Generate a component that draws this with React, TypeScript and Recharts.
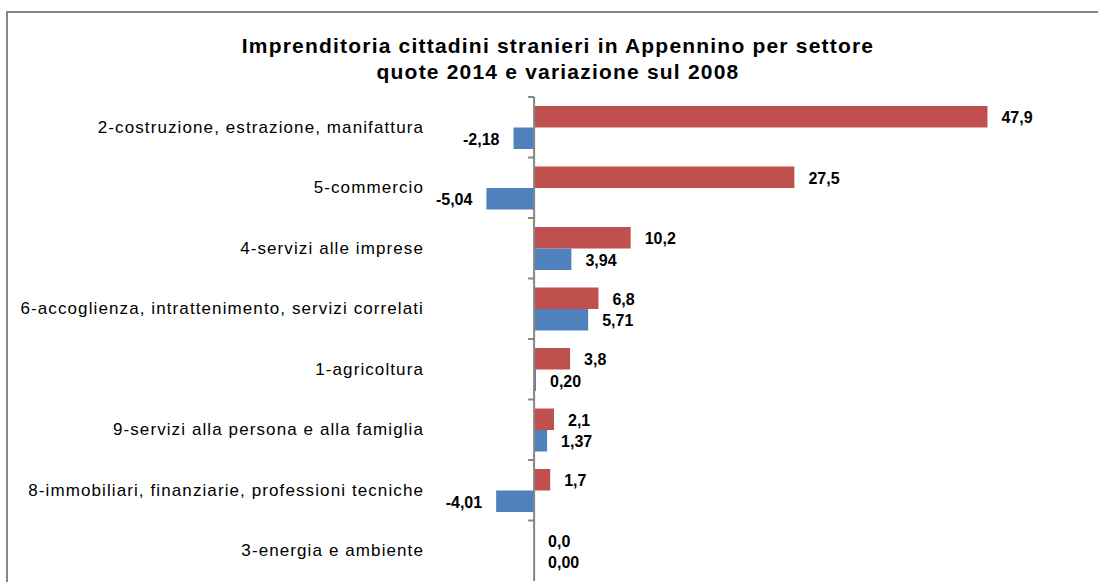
import React from 'react';
import { BarChart, Bar, XAxis, YAxis, ReferenceLine, LabelList } from 'recharts';

const categories = [
  '2-costruzione, estrazione, manifattura',
  '5-commercio',
  '4-servizi alle imprese',
  '6-accoglienza, intrattenimento, servizi correlati',
  '1-agricoltura',
  '9-servizi alla persona e alla famiglia',
  '8-immobiliari, finanziarie, professioni tecniche',
  '3-energia e ambiente',
];
const quote2014 = [47.9, 27.5, 10.2, 6.8, 3.8, 2.1, 1.7, 0.0];
const variazione2008 = [-2.18, -5.04, 3.94, 5.71, 0.2, 1.37, -4.01, 0.0];
const titleLines = [
  'Imprenditoria cittadini stranieri in Appennino per settore',
  'quote 2014 e variazione sul 2008',
];

const data = categories.map((name, i) => ({
  name,
  quota: quote2014[i],
  variazione: variazione2008[i],
}));

const FONT = '"Liberation Sans", Arial, sans-serif';
const CHART_W = 1102;
const CHART_H = 582;
const MARGIN = { top: 97, right: 0, bottom: 1, left: 0 };
const YAXIS_W = 430;
const DOMAIN: [number, number] = [-11, 60];
const PLOT_W = CHART_W - MARGIN.left - MARGIN.right - YAXIS_W;
const ZERO_X = MARGIN.left + YAXIS_W + (-DOMAIN[0]) * (PLOT_W / (DOMAIN[1] - DOMAIN[0]));
const BAND = (CHART_H - MARGIN.top - MARGIN.bottom) / categories.length;
const AXIS_COLOR = '#868686';

const CategoryTick = (props: any) => {
  const { y, payload } = props;
  return (
    <g>
      <text
        x={YAXIS_W - 6}
        y={y}
        textAnchor="end"
        dominantBaseline="central"
        fontFamily={FONT}
        fontSize={17}
        letterSpacing={1.1}
        fill="#000"
      >
        {payload.value}
      </text>
      <line x1={ZERO_X - 6} x2={ZERO_X} y1={y - BAND / 2} y2={y - BAND / 2} stroke={AXIS_COLOR} strokeWidth={2} />
    </g>
  );
};

const makeLabel = (digits: number) => (props: any) => {
  const { x, y, width, height, value } = props;
  const v = Number(value);
  const left = Math.min(Number(x), Number(x) + Number(width));
  const right = Math.max(Number(x), Number(x) + Number(width));
  const neg = v < 0;
  const tx = neg ? left - 14 : right + 14;
  return (
    <text
      x={tx}
      y={Number(y) + Number(height) / 2 + 1}
      textAnchor={neg ? 'end' : 'start'}
      dominantBaseline="central"
      fontFamily={FONT}
      fontSize={16}
      fontWeight="bold"
      fill="#000"
    >
      {v.toFixed(digits).replace('.', ',')}
    </text>
  );
};

export default function App() {
  return (
    <div
      style={{
        position: 'absolute',
        left: 0,
        top: 0,
        width: 1098,
        height: 582,
        overflow: 'hidden',
        background: '#fff',
      }}
    >
      <div
        style={{
          position: 'absolute',
          left: 6,
          top: 11,
          width: 1200,
          height: 700,
          borderLeft: `2px solid ${AXIS_COLOR}`,
          borderTop: `2px solid ${AXIS_COLOR}`,
          boxSizing: 'border-box',
        }}
      />
      <div
        style={{
          position: 'absolute',
          left: 0,
          top: 33,
          width: 1116,
          textAlign: 'center',
          fontFamily: FONT,
          fontWeight: 'bold',
          fontSize: 21,
          letterSpacing: 1.2,
          lineHeight: '26px',
          color: '#000',
        }}
      >
        {titleLines.map((t) => (
          <div key={t}>{t}</div>
        ))}
      </div>
      <div style={{ position: 'absolute', left: 0, top: 0 }}>
        <BarChart
          width={CHART_W}
          height={CHART_H}
          data={data}
          layout="vertical"
          margin={MARGIN}
          barGap={0}
        >
          <XAxis
            type="number"
            domain={DOMAIN}
            allowDataOverflow
            height={0}
            tick={false}
            tickLine={false}
            axisLine={{ stroke: AXIS_COLOR, strokeWidth: 2 }}
          />
          <YAxis
            type="category"
            dataKey="name"
            width={YAXIS_W}
            axisLine={false}
            tickLine={false}
            tick={<CategoryTick />}
            interval={0}
          />
          <Bar dataKey="quota" fill="#C0504D" barSize={21.5} minPointSize={0.01} isAnimationActive={false}>
            <LabelList dataKey="quota" content={makeLabel(1)} />
          </Bar>
          <Bar dataKey="variazione" fill="#4F81BD" barSize={21.5} minPointSize={0.01} isAnimationActive={false}>
            <LabelList dataKey="variazione" content={makeLabel(2)} />
          </Bar>
          <ReferenceLine x={0} stroke={AXIS_COLOR} strokeWidth={2} />
        </BarChart>
      </div>
    </div>
  );
}
